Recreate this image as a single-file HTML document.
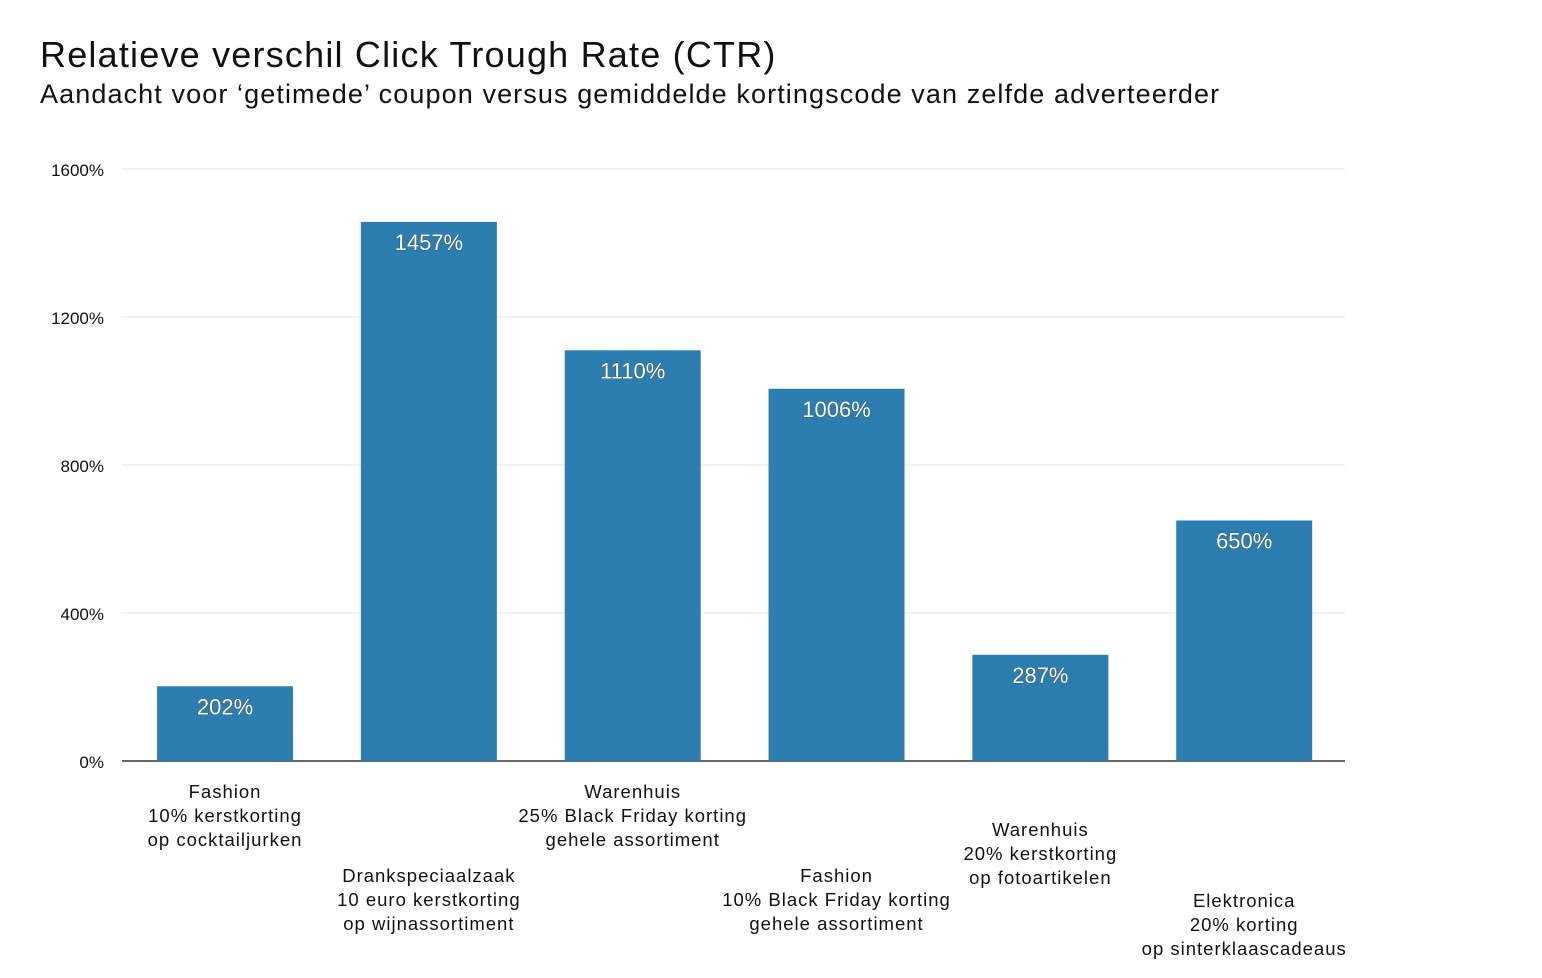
<!DOCTYPE html>
<html><head><meta charset="utf-8"><style>
body{margin:0;background:#fff;width:1542px;height:973px;overflow:hidden;font-family:"Liberation Sans",Arial,sans-serif}
</style></head><body>
<svg width="1542" height="973">
<text x="40" y="67" font-size="36" letter-spacing="1.2" fill="#111">Relatieve verschil Click Trough Rate (CTR)</text>
<text x="40" y="103" font-size="27" letter-spacing="1.1" fill="#111">Aandacht voor ‘getimede’ coupon versus gemiddelde kortingscode van zelfde adverteerder</text>
<g id="grid"></g><g id="bars"></g><g id="labels"></g>
</svg>
<script>
const categories=[["Fashion","10% kerstkorting","op cocktailjurken"],["Drankspeciaalzaak","10 euro kerstkorting","op wijnassortiment"],["Warenhuis","25% Black Friday korting","gehele assortiment"],["Fashion","10% Black Friday korting","gehele assortiment"],["Warenhuis","20% kerstkorting","op fotoartikelen"],["Elektronica","20% korting","op sinterklaascadeaus"]];
const values=[202,1457,1110,1006,287,650];
const valueLabels=["202%","1457%","1110%","1006%","287%","650%"];
const ticks=[0,400,800,1200,1600];
const tickLabels=["0%","400%","800%","1200%","1600%"];
const labelOffsets=[0,1,0,1,0.45,1.3];
const NS="http://www.w3.org/2000/svg";
const x0=122,x1=1345,yBase=761,yTop=169,maxV=1600;
const band=(x1-x0)/values.length;
const y=v=>yBase-(v/maxV)*(yBase-yTop);
const bx=i=>x0+i*band+band*0.172;
const bw=band*0.667;
function mk(t,a,p){const e=document.createElementNS(NS,t);for(const k in a)e.setAttribute(k,a[k]);p.appendChild(e);return e;}
const g=document.getElementById('grid'),b=document.getElementById('bars'),l=document.getElementById('labels');
ticks.forEach((t,i)=>{
 if(t>0){const ln=mk('line',{x1:x0,x2:x1,y1:y(t),y2:y(t),stroke:'#e4e4e4','stroke-width':1},g);
 
 }
 const tx=mk('text',{x:104,y:y(t)+7,'font-size':17,'text-anchor':'end',fill:'#111'},g);
 tx.textContent=tickLabels[i];
 
 
});
values.forEach((v,i)=>{
 const r=mk('rect',{x:bx(i),y:y(v),width:bw,height:yBase-y(v),fill:'#2c7db0'},b);
 
 
 const t=mk('text',{x:bx(i)+bw/2,y:y(v)+28,'font-size':22,'text-anchor':'middle',fill:'#fff',stroke:'#333','stroke-width':0.6,'paint-order':'stroke'},b);
 t.textContent=valueLabels[i];
 
 
 categories[i].forEach((s,j)=>{
  const c=mk('text',{x:bx(i)+bw/2,y:798+labelOffsets[i]*84+j*24,'font-size':18.5,'letter-spacing':1,'text-anchor':'middle',fill:'#111'},l);
  c.textContent=s;
  
  
 });
});
const ax=mk('line',{x1:x0,x2:x1,y1:yBase,y2:yBase,stroke:'#333','stroke-width':1.5},g);


</script>
</body></html>
